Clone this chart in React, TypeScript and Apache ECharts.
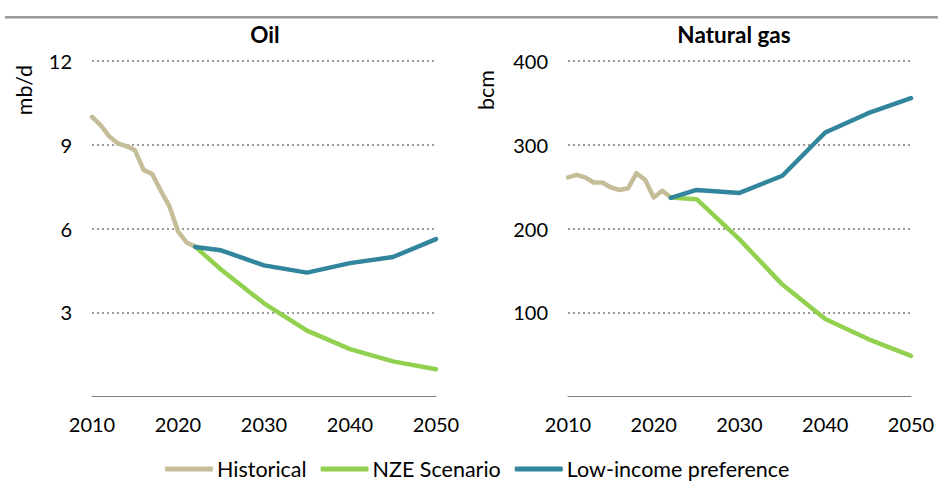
import React, { useEffect, useRef } from "react";
import * as echarts from "echarts";

const years = [2010, 2011, 2012, 2013, 2014, 2015, 2016, 2017, 2018, 2019, 2020, 2021, 2022];
const oilHistorical = [10.0, 9.7, 9.3, 9.05, 8.95, 8.8, 8.1, 7.95, 7.35, 6.8, 5.9, 5.5, 5.35];
const gasHistorical = [261, 264, 261, 255, 255, 249, 246, 248, 266, 258, 237, 245, 237];

const projYears = [2022, 2025, 2030, 2035, 2040, 2045, 2050];
const oilNZE = [5.35, 4.53, 3.32, 2.34, 1.68, 1.24, 0.96];
const oilLowIncome = [5.34, 5.22, 4.68, 4.42, 4.76, 4.98, 5.62];
const gasNZE = [237, 235, 187, 133, 92, 68, 48];
const gasLowIncome = [236.5, 246, 242.5, 263, 314.6, 337.7, 355.6];

const oilTicks = { min: 0, max: 12, interval: 3 };
const gasTicks = { min: 0, max: 400, interval: 100 };

const seriesNames = ["Historical", "NZE Scenario", "Low-income preference"];
const colors = ["#C4BD97", "#92D050", "#31859C"];

const FONT = "Lato";

function pairs(xs: number[], ys: number[]) {
  return xs.map((x, i) => [x, ys[i]]);
}

export default function App() {
  const ref = useRef<HTMLDivElement>(null);
  useEffect(() => {
    if (!ref.current) return;
    const chart = echarts.init(ref.current, undefined, { renderer: "svg" });
    const xAxisBase = (gridIndex: number) => ({
      type: "value" as const,
      gridIndex,
      min: 2010,
      max: 2050,
      interval: 10,
      axisLine: { show: true, lineStyle: { color: "#808080", width: 1 } },
      axisTick: { show: false },
      splitLine: { show: false },
      axisLabel: {
        color: "#000",
        fontFamily: FONT,
        fontSize: 20,
        margin: 18,
        formatter: (v: number) => String(v),
      },
    });
    const yAxisBase = (gridIndex: number, t: { min: number; max: number; interval: number }) => ({
      type: "value" as const,
      gridIndex,
      min: t.min,
      max: t.max,
      interval: t.interval,
      axisLine: { show: false },
      axisTick: { show: false },
      splitLine: {
        show: true,
        lineStyle: { color: ["rgba(0,0,0,0)", "#999", "#999", "#999", "#999"], width: 2, type: [2, 3] },
      },
      axisLabel: {
        color: "#000",
        fontFamily: FONT,
        fontSize: 20,
        margin: 20,
        formatter: (v: number) => (v === 0 ? "" : String(v)),
      },
    });
    const line = (name: string, color: string, xi: number, data: number[][]) => ({
      name,
      type: "line" as const,
      xAxisIndex: xi,
      yAxisIndex: xi,
      data,
      symbol: "none",
      lineStyle: { color, width: 4.5, cap: "round", join: "round" },
      itemStyle: { color },
    });
    chart.setOption({
      animation: false,
      textStyle: { fontFamily: FONT },
      grid: [
        { left: 92, top: 61, width: 344, height: 335 },
        { left: 568, top: 61, width: 343, height: 335 },
      ],
      xAxis: [xAxisBase(0), xAxisBase(1)],
      yAxis: [yAxisBase(0, oilTicks), yAxisBase(1, gasTicks)],
      legend: {
        left: 165,
        top: 458,
        padding: 0,
        itemWidth: 48,
        itemHeight: 5,
        itemGap: 14,
        icon: "roundRect",
        data: seriesNames,
        textStyle: { color: "#000", fontFamily: FONT, fontSize: 21.5, lineHeight: 22, padding: [0, 0, 0, -1] },
      },
      graphic: [
        { type: "rect", shape: { x: 5, y: 16, width: 933, height: 2.5 }, style: { fill: "#9a9a9a" }, silent: true },
        { type: "text", x: 265, y: 34, style: { text: "Oil", fontFamily: FONT, fontWeight: "bold", fontSize: 22.5, fill: "#000", align: "center", verticalAlign: "middle" } },
        { type: "text", x: 734, y: 34, style: { text: "Natural gas", fontFamily: FONT, fontWeight: "bold", fontSize: 22.5, fill: "#000", align: "center", verticalAlign: "middle" } },
        { type: "text", x: 24, y: 90, rotation: Math.PI / 2, style: { text: "mb/d", fontFamily: FONT, fontSize: 21.5, fill: "#000", align: "center", verticalAlign: "middle" } },
        { type: "text", x: 486, y: 90, rotation: Math.PI / 2, style: { text: "bcm", fontFamily: FONT, fontSize: 21.5, fill: "#000", align: "center", verticalAlign: "middle" } },
      ],
      series: [
        line(seriesNames[0], colors[0], 0, pairs(years, oilHistorical)),
        line(seriesNames[1], colors[1], 0, pairs(projYears, oilNZE)),
        line(seriesNames[2], colors[2], 0, pairs(projYears, oilLowIncome)),
        line(seriesNames[0], colors[0], 1, pairs(years, gasHistorical)),
        line(seriesNames[1], colors[1], 1, pairs(projYears, gasNZE)),
        line(seriesNames[2], colors[2], 1, pairs(projYears, gasLowIncome)),
      ],
    });
    return () => chart.dispose();
  }, []);
  return (
    <div style={{ position: "absolute", left: 0, top: 0, width: 938, height: 481, background: "#fff" }}>
      <div ref={ref} style={{ width: 938, height: 481 }} />
    </div>
  );
}
